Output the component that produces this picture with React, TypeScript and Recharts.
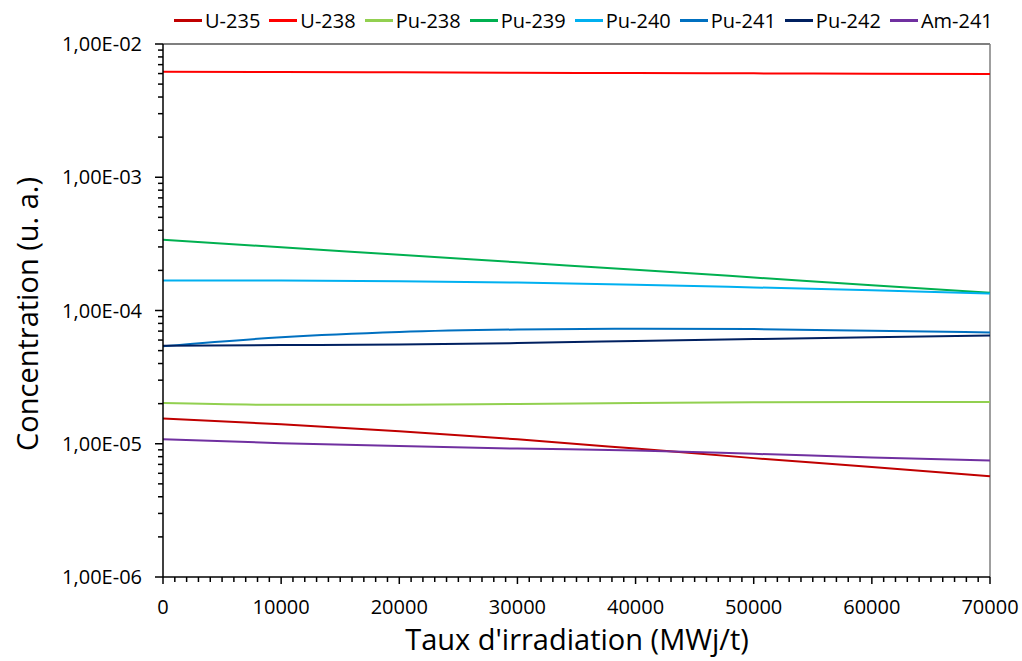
import React from 'react';
import { LineChart, Line, XAxis, YAxis, ReferenceLine } from 'recharts';

const burnup = [0, 10000, 20000, 30000, 40000, 50000, 60000, 70000];
const u235 = [1.55e-5, 1.4e-5, 1.24e-5, 1.08e-5, 9.2e-6, 7.8e-6, 6.7e-6, 5.7e-6];
const u238 = [6.2e-3, 6.17e-3, 6.13e-3, 6.09e-3, 6.05e-3, 6.02e-3, 5.98e-3, 5.95e-3];
const pu238 = [2.02e-5, 1.96e-5, 1.96e-5, 1.99e-5, 2.02e-5, 2.05e-5, 2.06e-5, 2.06e-5];
const pu239 = [3.4e-4, 2.98e-4, 2.62e-4, 2.3e-4, 2.02e-4, 1.77e-4, 1.55e-4, 1.36e-4];
const pu240 = [1.68e-4, 1.68e-4, 1.66e-4, 1.62e-4, 1.56e-4, 1.49e-4, 1.42e-4, 1.34e-4];
const pu241 = [5.4e-5, 6.3e-5, 6.9e-5, 7.2e-5, 7.3e-5, 7.25e-5, 7.05e-5, 6.85e-5];
const pu242 = [5.45e-5, 5.5e-5, 5.55e-5, 5.7e-5, 5.9e-5, 6.1e-5, 6.3e-5, 6.5e-5];
const am241 = [1.08e-5, 1.01e-5, 9.6e-6, 9.2e-6, 8.9e-6, 8.4e-6, 7.9e-6, 7.5e-6];

const seriesNames = ['U-235', 'U-238', 'Pu-238', 'Pu-239', 'Pu-240', 'Pu-241', 'Pu-242', 'Am-241'];
const seriesValues = [u235, u238, pu238, pu239, pu240, pu241, pu242, am241];
const seriesColors = ['#C00000', '#FF0000', '#92D050', '#00B050', '#00B0F0', '#0070C0', '#002060', '#7030A0'];

const xTicks: number[] = [];
for (let v = 0; v <= 70000; v += 1000) xTicks.push(v);
const yTicks: number[] = [];
for (let e = -6; e <= -2; e++) {
  for (let m = 1; m <= 9; m++) {
    if (e === -2 && m > 1) break;
    yTicks.push(m * Math.pow(10, e));
  }
}

const data = burnup.map((x, i) => {
  const row: any = { x };
  seriesNames.forEach((n, k) => {
    row[n] = seriesValues[k][i];
  });
  return row;
});

const FONT = "'Open Sans', Lato, sans-serif";

const fmtY = (v: number) => {
  const e = Math.round(Math.log10(v));
  const a = Math.abs(e);
  return '1,00E' + (e < 0 ? '-' : '+') + (a < 10 ? '0' + a : '' + a);
};

const YTick = (props: any) => {
  const { x, y, payload } = props;
  const v = payload.value;
  const lg = Math.log10(v);
  const major = Math.abs(lg - Math.round(lg)) < 1e-6;
  return (
    <g>
      {major && <line x1={x - 3} x2={x} y1={y} y2={y} stroke="#000" strokeWidth={1.5} />}
      {major && (
        <text x={x - 16} y={y} dy={7} textAnchor="end" fontSize={20} fill="#000" fontFamily={FONT}>
          {fmtY(v)}
        </text>
      )}
    </g>
  );
};

const XTick = (props: any) => {
  const { x, y, payload } = props;
  const v = payload.value;
  const major = v % 10000 === 0;
  return (
    <g>
      {major && <line x1={x} x2={x} y1={y} y2={y + 2} stroke="#000" strokeWidth={1.5} />}
      {major && (
        <text x={x} y={y + 32} textAnchor="middle" fontSize={20} fill="#000" fontFamily={FONT}>
          {String(v)}
        </text>
      )}
    </g>
  );
};

export default function App() {
  return (
    <div style={{ position: 'absolute', left: 0, top: 0, width: 1022, height: 661, background: '#fff' }}>
      <div
        style={{
          position: 'absolute',
          left: 174,
          top: 6,
          height: 28,
          display: 'flex',
          alignItems: 'center',
          fontFamily: FONT,
          fontSize: 20,
          color: '#000',
          whiteSpace: 'nowrap',
        }}
      >
        {seriesNames.map((n, i) => (
          <div key={n} style={{ display: 'flex', alignItems: 'center', marginRight: 9 }}>
            <div style={{ width: 28, height: 3, background: seriesColors[i], marginRight: 3 }} />
            <span>{n}</span>
          </div>
        ))}
      </div>
      <LineChart width={1022} height={661} data={data} margin={{ top: 44, right: 32, bottom: 54, left: 0 }}>
        <XAxis
          dataKey="x"
          type="number"
          domain={[0, 70000]}
          ticks={xTicks}
          interval={0}
          height={30}
          tickSize={5}
          tickMargin={0}
          tickLine={{ stroke: '#000', strokeWidth: 1.5 }}
          tick={<XTick />}
          axisLine={{ stroke: '#000', strokeWidth: 1.5 }}
          label={{
            content: () => (
              <text x={577} y={650} textAnchor="middle" fontSize={29} fill="#000" fontFamily={FONT}>
                Taux d'irradiation (MWj/t)
              </text>
            ),
          }}
        />
        <YAxis
          type="number"
          scale="log"
          domain={[1e-6, 1e-2]}
          ticks={yTicks}
          interval={0}
          allowDataOverflow
          width={163}
          tickSize={5}
          tickMargin={0}
          tickLine={{ stroke: '#000', strokeWidth: 1.5 }}
          tick={<YTick />}
          axisLine={{ stroke: '#000', strokeWidth: 1.5 }}
          label={{
            content: () => (
              <text
                x={38}
                y={314}
                transform="rotate(-90, 38, 314)"
                textAnchor="middle"
                fontSize={29}
                fill="#000"
                fontFamily={FONT}
              >
                Concentration (u. a.)
              </text>
            ),
          }}
        />
        <ReferenceLine y={1e-2} stroke="#7f7f7f" strokeWidth={2} />
        <ReferenceLine x={70000} stroke="#7f7f7f" strokeWidth={1.5} />
        {seriesNames.map((n, i) => (
          <Line
            key={n}
            type="monotone"
            dataKey={n}
            stroke={seriesColors[i]}
            strokeWidth={2}
            dot={false}
            isAnimationActive={false}
          />
        ))}
      </LineChart>
    </div>
  );
}
